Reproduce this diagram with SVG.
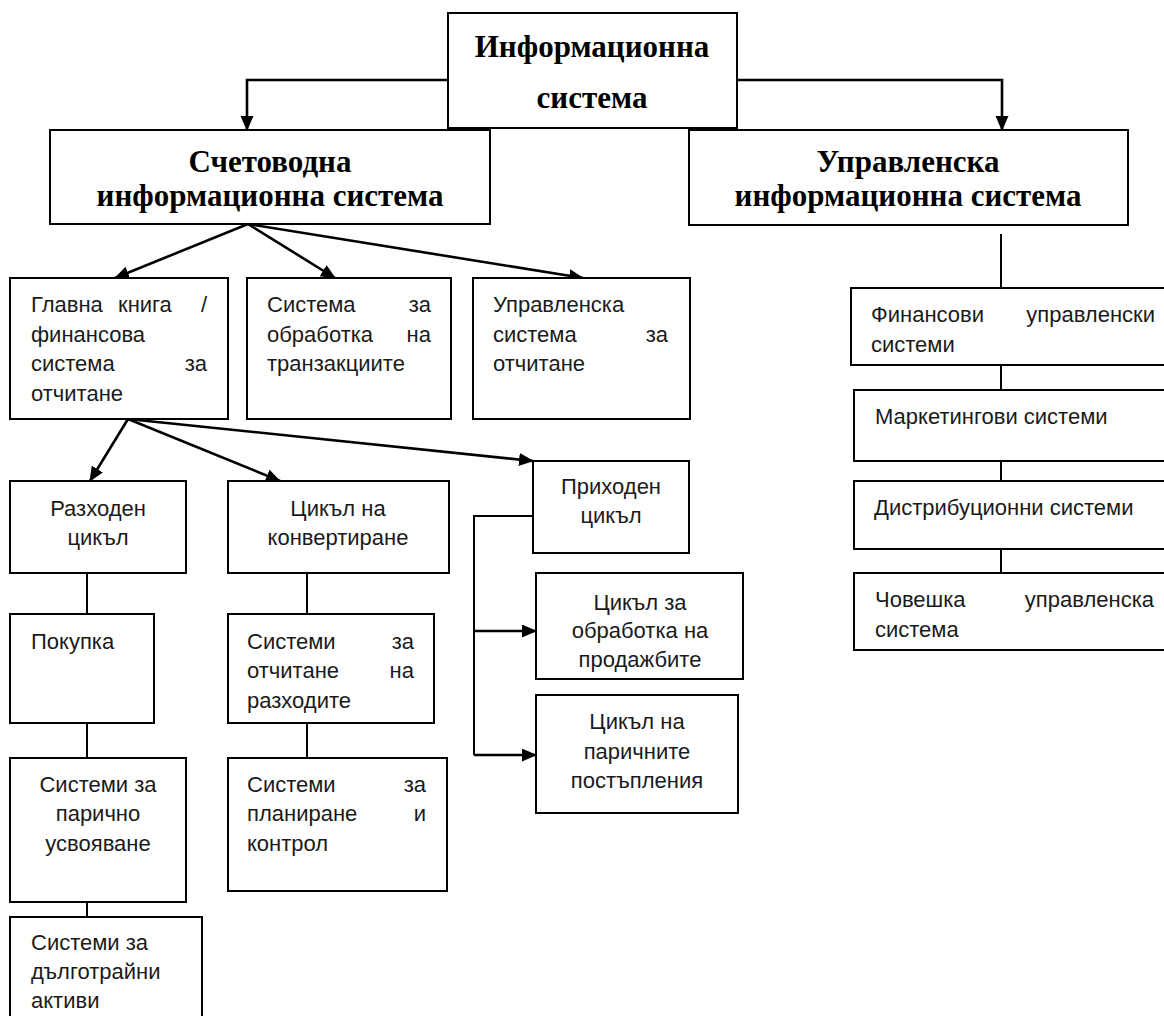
<svg xmlns="http://www.w3.org/2000/svg" width="1164" height="1016" viewBox="0 0 1164 1016">
<style>
.box{fill:#fff;stroke:#000;stroke-width:2}
.h{font-family:"Liberation Serif","Times New Roman",serif;font-weight:bold;font-size:31px;fill:#000;text-anchor:middle}
.t{font-family:"Liberation Sans",Arial,sans-serif;font-size:22px;fill:#1a1a1a}
.c{text-anchor:middle}
.e{text-anchor:end}
.arr{fill:none;stroke:#000;stroke-width:2.6;marker-end:url(#ah)}
.ln{fill:none;stroke:#000;stroke-width:2}
</style>
<defs>
<marker id="ah" markerUnits="userSpaceOnUse" markerWidth="16" markerHeight="14" refX="14" refY="6.5" orient="auto">
<path d="M0,0 L15,6.5 L0,13 z" fill="#000"/>
</marker>
</defs>
<rect width="1164" height="1016" fill="#fff"/>

<g id="connectors">
<path class="arr" d="M448,80 H247 V130"/>
<path class="arr" d="M737,80 H1002 V130"/>
<path class="arr" d="M248,224 L115,278"/>
<path class="arr" d="M248,224 L335,278"/>
<path class="arr" d="M248,224 L583,278"/>
<path class="arr" d="M128,419 L90,481"/>
<path class="arr" d="M128,419 L280,481"/>
<path class="arr" d="M128,419 L533,461"/>
<path class="ln" d="M87,573 V614 M87,723 V758 M87,902 V917"/>
<path class="ln" d="M307,573 V614 M307,723 V758"/>
<path class="ln" d="M533,516 H474 V755"/>
<path class="arr" d="M474,631 H536"/>
<path class="arr" d="M474,755 H536"/>
<path class="ln" d="M1001,234 V288 M1001,365 V390 M1001,461 V481 M1001,549 V573"/>
</g>

<g id="n-info">
<rect class="box" x="448" y="13" width="289" height="115"/>
<text class="h" x="592" y="57">Информационна</text>
<text class="h" x="592" y="108">система</text>
</g>

<g id="n-acc">
<rect class="box" x="50" y="130" width="440" height="94"/>
<text class="h" x="270" y="172">Счетоводна</text>
<text class="h" x="270" y="206">информационна система</text>
</g>

<g id="n-mis">
<rect class="box" x="689" y="130" width="439" height="95"/>
<text class="h" x="908" y="172">Управленска</text>
<text class="h" x="908" y="206">информационна система</text>
</g>

<g id="n-gl">
<rect class="box" x="10" y="278" width="218" height="141"/>
<text class="t" x="31" y="312">Главна</text>
<text class="t" x="118" y="312">книга</text>
<text class="t e" x="207" y="312">/</text>
<text class="t" x="31" y="342">финансова</text>
<text class="t" x="31" y="371">система</text>
<text class="t e" x="207" y="371">за</text>
<text class="t" x="31" y="401">отчитане</text>
</g>

<g id="n-tps">
<rect class="box" x="247" y="278" width="204" height="141"/>
<text class="t" x="267" y="312">Система</text>
<text class="t e" x="431" y="312">за</text>
<text class="t" x="267" y="342">обработка</text>
<text class="t e" x="431" y="342">на</text>
<text class="t" x="267" y="371">транзакциите</text>
</g>

<g id="n-mrs">
<rect class="box" x="473" y="278" width="217" height="141"/>
<text class="t" x="493" y="312">Управленска</text>
<text class="t" x="493" y="342">система</text>
<text class="t e" x="668" y="342">за</text>
<text class="t" x="493" y="371">отчитане</text>
</g>

<g id="n-exp">
<rect class="box" x="10" y="481" width="176" height="92"/>
<text class="t c" x="98" y="516">Разходен</text>
<text class="t c" x="98" y="545">цикъл</text>
</g>

<g id="n-conv">
<rect class="box" x="228" y="481" width="221" height="92"/>
<text class="t c" x="338" y="516">Цикъл на</text>
<text class="t c" x="338" y="545">конвертиране</text>
</g>

<g id="n-rev">
<rect class="box" x="533" y="461" width="156" height="92"/>
<text class="t c" x="611" y="494">Приходен</text>
<text class="t c" x="611" y="523">цикъл</text>
</g>

<g id="n-buy">
<rect class="box" x="10" y="614" width="144" height="109"/>
<text class="t" x="31" y="649">Покупка</text>
</g>

<g id="n-cost">
<rect class="box" x="228" y="614" width="206" height="109"/>
<text class="t" x="247" y="649">Системи</text>
<text class="t e" x="414" y="649">за</text>
<text class="t" x="247" y="678">отчитане</text>
<text class="t e" x="414" y="678">на</text>
<text class="t" x="247" y="708">разходите</text>
</g>

<g id="n-sales">
<rect class="box" x="536" y="573" width="207" height="106"/>
<text class="t c" x="640" y="610">Цикъл за</text>
<text class="t c" x="640" y="638">обработка на</text>
<text class="t c" x="640" y="667">продажбите</text>
</g>

<g id="n-cash">
<rect class="box" x="536" y="695" width="202" height="118"/>
<text class="t c" x="637" y="729">Цикъл на</text>
<text class="t c" x="637" y="759">паричните</text>
<text class="t c" x="637" y="788">постъпления</text>
</g>

<g id="n-pay">
<rect class="box" x="10" y="758" width="176" height="144"/>
<text class="t c" x="98" y="792">Системи за</text>
<text class="t c" x="98" y="821">парично</text>
<text class="t c" x="98" y="851">усвояване</text>
</g>

<g id="n-plan">
<rect class="box" x="228" y="758" width="219" height="133"/>
<text class="t" x="247" y="792">Системи</text>
<text class="t e" x="426" y="792">за</text>
<text class="t" x="247" y="821">планиране</text>
<text class="t e" x="426" y="821">и</text>
<text class="t" x="247" y="851">контрол</text>
</g>

<g id="n-fixed">
<rect class="box" x="10" y="917" width="192" height="120"/>
<text class="t" x="31" y="950">Системи за</text>
<text class="t" x="31" y="979">дълготрайни</text>
<text class="t" x="31" y="1008">активи</text>
</g>

<g id="n-fin">
<rect class="box" x="851" y="288" width="320" height="77"/>
<text class="t" x="871" y="322">Финансови</text>
<text class="t e" x="1155" y="322">управленски</text>
<text class="t" x="871" y="352">системи</text>
</g>

<g id="n-mkt">
<rect class="box" x="854" y="390" width="317" height="71"/>
<text class="t" x="875" y="424">Маркетингови системи</text>
</g>

<g id="n-dist">
<rect class="box" x="854" y="481" width="317" height="68"/>
<text class="t" x="874" y="515">Дистрибуционни системи</text>
</g>

<g id="n-hr">
<rect class="box" x="854" y="573" width="317" height="77"/>
<text class="t" x="875" y="607">Човешка</text>
<text class="t e" x="1154" y="607">управленска</text>
<text class="t" x="875" y="637">система</text>
</g>
</svg>
